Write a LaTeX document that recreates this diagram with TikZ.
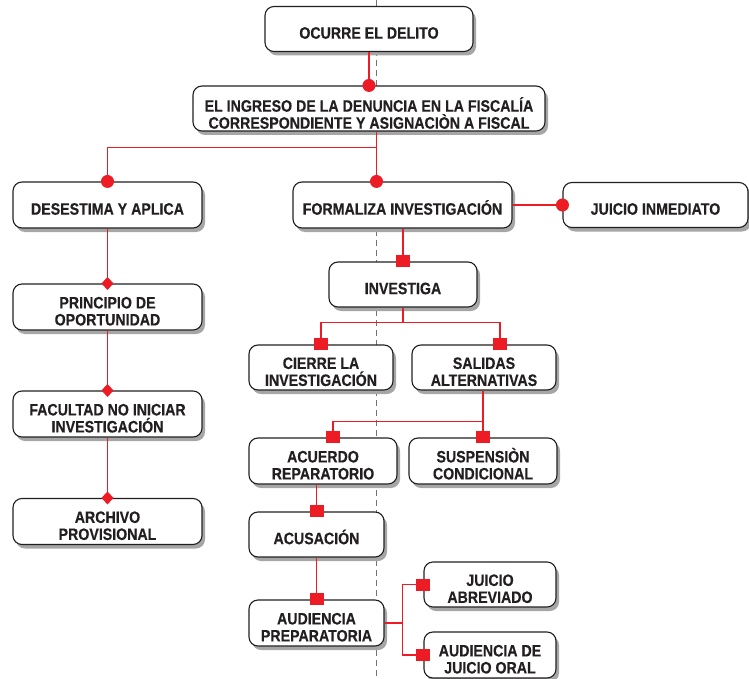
\documentclass[tikz,border=0pt]{standalone}
\usepackage{fontspec}
\newfontfamily\bxfont{Liberation Sans}[FakeStretch=0.86,FakeBold=0.35]
\usetikzlibrary{shadows,calc}
\definecolor{cred}{HTML}{ED1C24}
\definecolor{ctext}{HTML}{231F20}
\newcommand\rdot[1]{\fill[cred] (#1) circle (6.5pt);}
\newcommand\rsq[1]{\fill[cred] ($(#1)+(-7,-6)$) rectangle ($(#1)+(7,6)$);}
\newcommand\rdia[1]{\fill[cred] ($(#1)+(0,-6.5)$) -- ($(#1)+(6,0)$) -- ($(#1)+(0,6.5)$) -- ($(#1)+(-6,0)$) -- cycle;}
\newcommand\toprule[1]{\rule{0pt}{#1}}
\newcommand\tl{\rule{0pt}{20pt}}
\begin{document}
\begin{tikzpicture}[x=1pt,y=-1pt,
 box/.style={draw=ctext, line width=1.1pt, rounded corners=9pt, fill=white, align=center,
   inner sep=0pt, minimum height=45pt, text=ctext,
   font=\bxfont\bfseries\fontsize{16.5}{17}\selectfont,
   drop shadow={shadow xshift=3pt, shadow yshift=-4pt, fill=black!35, opacity=1}},
 conn/.style={draw=cred, line width=1.5pt},
 guide/.style={draw=black!55, line width=0.9pt, dash pattern=on 6pt off 4pt}
]
\useasboundingbox (0,0) rectangle (749,679);
\draw[guide] (376,0) -- (376,679);

\node[box, minimum width=208pt] (ocurre) at (369,29) {\toprule{19.5pt}OCURRE EL DELITO};
\node[box, minimum width=352pt] (ingreso) at (369,108.5) {\toprule{23.5pt}EL INGRESO DE LA DENUNCIA EN LA FISCALÍA\\CORRESPONDIENTE Y ASIGNACIÒN A FISCAL};
\node[box, minimum width=189pt, minimum height=46pt] (desestima) at (107.5,205) {\toprule{19.5pt}DESESTIMA Y APLICA};
\node[box, minimum width=219pt, minimum height=46pt] (formaliza) at (402.5,205) {\toprule{19.5pt}FORMALIZA INVESTIGACIÓN};
\node[box, minimum width=185pt] (inmediato) at (655.5,205) {\toprule{19.5pt}JUICIO INMEDIATO};
\node[box, minimum width=148pt] (investiga) at (403,284.5) {\toprule{19.5pt}INVESTIGA};
\node[box, minimum width=144pt] (cierre) at (321,367.5) {\tl CIERRE LA\\INVESTIGACIÓN};
\node[box, minimum width=144pt] (salidas) at (484,367.5) {\tl SALIDAS\\ALTERNATIVAS};
\node[box, minimum width=189pt, minimum height=46pt] (principio) at (107.5,307) {\tl PRINCIPIO DE\\OPORTUNIDAD};
\node[box, minimum width=189pt, minimum height=46pt] (facultad) at (107.5,414) {\tl FACULTAD NO INICIAR\\INVESTIGACIÓN};
\node[box, minimum width=189pt, minimum height=46pt] (archivo) at (107.5,521.5) {\tl ARCHIVO\\PROVISIONAL};
\node[box, minimum width=148pt, minimum height=46pt] (acuerdo) at (323,461) {\tl ACUERDO\\REPARATORIO};
\node[box, minimum width=148pt, minimum height=46pt] (suspension) at (483,461) {\tl SUSPENSIÒN\\CONDICIONAL};
\node[box, minimum width=135pt] (acusacion) at (316.5,534.5) {\toprule{19.5pt}ACUSACIÓN};
\node[box, minimum width=135pt, minimum height=46pt] (prep) at (316.5,623) {\tl AUDIENCIA\\PREPARATORIA};
\node[box, minimum width=132pt] (abrev) at (490,584.5) {\tl JUICIO\\ABREVIADO};
\node[box, minimum width=132pt, minimum height=46pt] (oral) at (490,655) {\tl AUDIENCIA DE\\JUICIO ORAL};

% connectors
\draw[conn] (ocurre.south) -- (ingreso.north);
\coordinate (fin) at ([xshift=-26pt]formaliza.north);
\draw[conn] (ingreso.south -| fin) -- (fin);
\path (ingreso.south -| fin) ++(0,16) coordinate (j0);
\draw[conn] (j0) -| (desestima.north);
\draw[conn] (formaliza.east) -- (inmediato.west);
\draw[conn] (desestima.south) -- (principio.north);
\draw[conn] (principio.south) -- (facultad.north);
\draw[conn] (facultad.south) -- (archivo.north);
\draw[conn] (investiga.north |- formaliza.south) -- (investiga.north);
\path (investiga.south) ++(0,15) coordinate (j1);
\coordinate (sin) at ([xshift=16pt]salidas.north);
\draw[conn] (investiga.south) -- (j1);
\draw[conn] (cierre.north) |- (j1) -| (sin);
\path (salidas.south) ++(0,31) coordinate (j2);
\coordinate (ain) at ([xshift=10pt]acuerdo.north);
\draw[conn] (suspension.north |- salidas.south) -- (suspension.north);
\draw[conn] (suspension.north |- j2) -| (ain);
\draw[conn] (acusacion.north |- acuerdo.south) -- (acusacion.north);
\draw[conn] (acusacion.south) -- (prep.north);
\path (prep.east) ++(18,0) coordinate (j3);
\draw[conn] (prep.east) -- (j3);
\draw[conn] (abrev.west) -| (j3) |- (oral.west);

% markers
\rdot{ingreso.north}
\rdot{fin}
\rdot{desestima.north}
\rdot{inmediato.west}
\rdia{principio.north}
\rdia{facultad.north}
\rdia{archivo.north}
\rsq{investiga.north}
\rsq{cierre.north}
\rsq{sin}
\rsq{ain}
\rsq{suspension.north}
\rsq{acusacion.north}
\rsq{prep.north}
\rsq{abrev.west}
\rsq{oral.west}
\end{tikzpicture}
\end{document}
